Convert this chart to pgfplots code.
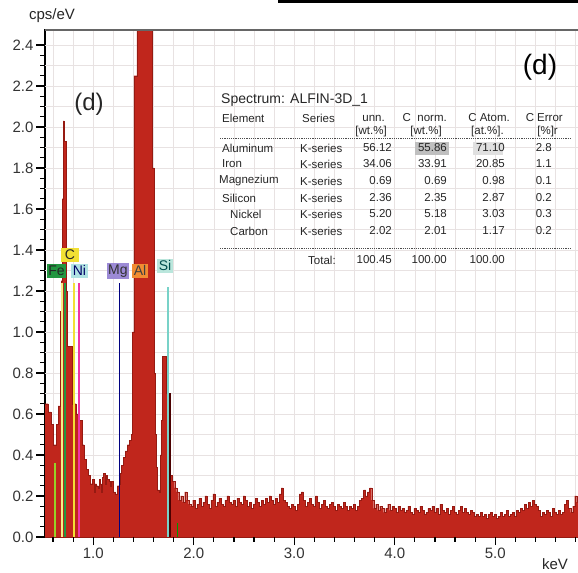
\documentclass[border=0pt]{standalone}
\usepackage{pgfplots}
\pgfplotsset{compat=1.18}
\usepackage{pgfplotstable}
\usepackage{fontspec}
\setmainfont{Liberation Sans}

\definecolor{specred}{RGB}{192,38,28}
\definecolor{specedge}{RGB}{150,26,18}
\definecolor{gridc}{RGB}{232,226,226}
\definecolor{fegreen}{RGB}{34,150,64}
\definecolor{cyell}{RGB}{242,224,52}
\definecolor{nicyan}{RGB}{176,226,226}
\definecolor{mgpurp}{RGB}{156,138,214}
\definecolor{alorange}{RGB}{242,140,50}
\definecolor{siteal}{RGB}{186,230,220}
\definecolor{limeline}{RGB}{150,210,40}
\definecolor{siline}{RGB}{120,210,200}

% EDS spectrum, channel left edge (keV) and counts (cps/eV)
\pgfplotstableread{
x y
0.50 0.65
0.55 0.61
0.58 0.55
0.60 0.45
0.63 0.55
0.65 0.64
0.67 1.10
0.68 1.25
0.69 1.65
0.70 2.03
0.71 1.93
0.73 1.20
0.74 0.93
0.79 0.65
0.83 0.60
0.86 0.57
0.89 0.45
0.91 0.38
0.93 0.33
0.95 0.30
0.97 0.26
0.99 0.28
1.01 0.22
1.02 0.26
1.03 0.25
1.05 0.24
1.06 0.28
1.07 0.26
1.08 0.22
1.09 0.29
1.10 0.31
1.12 0.26
1.13 0.30
1.14 0.28
1.16 0.27
1.17 0.25
1.18 0.27
1.20 0.22
1.22 0.21
1.24 0.25
1.26 0.26
1.27 0.31
1.28 0.35
1.30 0.39
1.32 0.42
1.34 0.45
1.36 0.47
1.38 0.50
1.39 1.00
1.405 2.25
1.435 2.60
1.585 1.80
1.605 0.80
1.615 0.50
1.625 0.34
1.635 0.23
1.66 0.22
1.665 0.40
1.675 0.57
1.69 0.88
1.725 0.70
1.77 0.30
1.79 0.27
1.81 0.24
1.83 0.22
1.85 0.18
1.87 0.20
1.89 0.17
1.91 0.22
1.93 0.18
1.95 0.16
1.97 0.15
1.99 0.18
2.01 0.14
2.03 0.16
2.05 0.19
2.07 0.15
2.09 0.17
2.11 0.20
2.13 0.16
2.15 0.14
2.17 0.18
2.19 0.21
2.21 0.15
2.23 0.17
2.25 0.19
2.27 0.16
2.29 0.15
2.31 0.18
2.33 0.20
2.35 0.17
2.37 0.16
2.39 0.18
2.41 0.15
2.43 0.19
2.45 0.17
2.47 0.16
2.49 0.20
2.51 0.18
2.53 0.15
2.55 0.17
2.57 0.14
2.59 0.16
2.61 0.19
2.63 0.17
2.65 0.15
2.67 0.18
2.69 0.16
2.71 0.19
2.73 0.17
2.75 0.20
2.77 0.18
2.79 0.16
2.81 0.19
2.83 0.17
2.85 0.21
2.87 0.24
2.89 0.18
2.91 0.17
2.93 0.15
2.95 0.14
2.97 0.16
2.99 0.15
3.01 0.13
3.03 0.16
3.05 0.21
3.07 0.22
3.09 0.18
3.11 0.15
3.13 0.17
3.15 0.19
3.17 0.16
3.19 0.15
3.21 0.20
3.23 0.17
3.25 0.14
3.27 0.16
3.29 0.18
3.31 0.15
3.33 0.14
3.35 0.16
3.37 0.17
3.39 0.15
3.41 0.13
3.43 0.16
3.45 0.15
3.47 0.14
3.49 0.17
3.51 0.15
3.53 0.13
3.55 0.15
3.57 0.14
3.59 0.16
3.61 0.13
3.63 0.15
3.65 0.18
3.67 0.19
3.69 0.23
3.71 0.20
3.73 0.22
3.75 0.24
3.77 0.18
3.79 0.14
3.81 0.16
3.83 0.13
3.85 0.15
3.87 0.14
3.89 0.12
3.91 0.14
3.93 0.16
3.95 0.13
3.97 0.15
3.99 0.14
4.01 0.12
4.03 0.15
4.05 0.13
4.07 0.14
4.09 0.12
4.11 0.13
4.13 0.15
4.15 0.12
4.17 0.11
4.19 0.14
4.21 0.13
4.23 0.12
4.25 0.15
4.27 0.13
4.29 0.11
4.31 0.12
4.33 0.14
4.35 0.13
4.37 0.15
4.39 0.12
4.41 0.14
4.43 0.11
4.45 0.16
4.47 0.13
4.49 0.12
4.51 0.14
4.53 0.11
4.55 0.13
4.57 0.15
4.59 0.12
4.61 0.11
4.63 0.13
4.65 0.15
4.67 0.12
4.69 0.14
4.71 0.12
4.73 0.11
4.75 0.13
4.77 0.12
4.79 0.10
4.81 0.11
4.83 0.10
4.85 0.12
4.87 0.10
4.89 0.11
4.91 0.09
4.93 0.11
4.95 0.12
4.97 0.10
4.99 0.11
5.01 0.09
5.03 0.10
5.05 0.12
5.07 0.10
5.09 0.11
5.11 0.13
5.13 0.10
5.15 0.11
5.17 0.12
5.19 0.10
5.21 0.13
5.23 0.12
5.25 0.14
5.27 0.13
5.29 0.16
5.31 0.14
5.33 0.17
5.35 0.15
5.37 0.18
5.39 0.16
5.41 0.15
5.43 0.13
5.45 0.10
5.47 0.12
5.49 0.11
5.51 0.13
5.53 0.12
5.55 0.10
5.57 0.14
5.59 0.12
5.61 0.11
5.63 0.13
5.65 0.11
5.67 0.12
5.69 0.16
5.71 0.18
5.73 0.14
5.75 0.12
5.77 0.15
5.79 0.20
5.81 0.17
5.83 0.17
5.87 0.17
}\spectrum

\begin{document}
\begin{tikzpicture}
\begin{axis}[
  at={(0,0)}, anchor=south west,
  scale only axis, width=535bp, height=507bp,
  xmin=0.52, xmax=5.843, ymin=0, ymax=2.473,
  axis line style={line width=1.1bp, black},
  xtick pos=bottom, ytick pos=left,
  xtick={0,1,2,3,4,5,6}, minor x tick num=4,
  ytick={0,0.2,0.4,0.6,0.8,1.0,1.2,1.4,1.6,1.8,2.0,2.2,2.4}, minor y tick num=3,
  tick align=outside,
  major tick length=8bp, minor tick length=4.5bp,
  tick style={black, line width=1bp},
  /pgf/number format/assume math mode=true,
  xticklabel style={/pgf/number format/.cd, fixed, fixed zerofill, precision=1},
  yticklabel style={/pgf/number format/.cd, fixed, fixed zerofill, precision=1},
  every tick label/.append style={font=\fontsize{15bp}{15bp}\selectfont, text=black!80},
]
% light background grid
\pgfplotsinvokeforeach{0.6,0.8,1.0,1.2,1.4,1.6,1.8,2.0,2.2,2.4,2.6,2.8,3.0,3.2,3.4,3.6,3.8,4.0,4.2,4.4,4.6,4.8,5.0,5.2,5.4,5.6,5.8}{
  \draw[gridc, line width=0.6bp] (axis cs:#1,0) -- (axis cs:#1,2.473);
}
\pgfplotsinvokeforeach{0.1,0.2,0.3,0.4,0.5,0.6,0.7,0.8,0.9,1.0,1.1,1.2,1.3,1.4,1.5,1.6,1.7,1.8,1.9,2.0,2.1,2.2,2.3,2.4}{
  \draw[gridc, line width=0.6bp] (axis cs:0.52,#1) -- (axis cs:5.843,#1);
}
\addplot[const plot, fill=specred, draw=specedge, line width=0.3bp] table {\spectrum} \closedcycle;

% element marker lines
\addplot[limeline, line width=1.2bp] coordinates {(0.620,0) (0.620,0.36)};
\addplot[cyell!60, line width=1.2bp] coordinates {(0.690,0) (0.690,1.24)};
\addplot[fegreen, line width=1.3bp] coordinates {(0.719,0) (0.719,1.24)};
\addplot[cyell, line width=2.2bp] coordinates {(0.808,0) (0.808,1.24)};
\addplot[magenta!80, line width=1.2bp] coordinates {(0.858,0) (0.858,1.24)};
\addplot[blue!50!black, line width=1.2bp] coordinates {(1.261,0) (1.261,1.24)};
\addplot[siline, line width=1.2bp] coordinates {(1.744,0) (1.744,1.22)};
\addplot[black!70!red, line width=1.2bp] coordinates {(1.764,0) (1.764,0.70)};
\addplot[green!60!black, line width=1.2bp] coordinates {(1.840,0) (1.840,0.07)};

% element labels
\tikzset{elbox/.style={inner xsep=1.5bp, inner ysep=2bp, font=\fontsize{14bp}{14bp}\selectfont}}
\node[elbox, fill=fegreen, text=black!85] at (axis cs:0.634,1.298) {Fe};
\node[elbox, fill=cyell, text=black!85] at (axis cs:0.769,1.376) {\,C\,};
\node[elbox, fill=nicyan, text=blue!40!black] at (axis cs:0.863,1.298) {Ni};
\node[elbox, fill=mgpurp, text=black!80] at (axis cs:1.246,1.298) {Mg};
\node[elbox, fill=alorange, text=black!75] at (axis cs:1.465,1.298) {Al};
\node[elbox, fill=siteal, text=teal!60!black] at (axis cs:1.714,1.322) {Si};
\end{axis}

% tick marks as small filled bars (100.507 bp per keV from 0.52, 205.01 bp per cps/eV)
\foreach \i in {0,...,48} \fill[black] (-5bp,{\i*10.2505bp-0.6bp}) rectangle (0bp,{\i*10.2505bp+0.6bp});
\foreach \i in {0,...,12} \fill[black] (-9bp,{\i*41.002bp-0.6bp}) rectangle (0bp,{\i*41.002bp+0.6bp});
\foreach \j in {0,...,26} \fill[black] ({(0.08+0.2*\j)*100.507bp-0.6bp},-5bp) rectangle ({(0.08+0.2*\j)*100.507bp+0.6bp},0bp);
\foreach \k in {1,...,5} \fill[black] ({(\k-0.52)*100.507bp-0.6bp},-8bp) rectangle ({(\k-0.52)*100.507bp+0.6bp},0bp);

% frame top line (grey) and crop bar
\draw[line width=1.5bp, black!60] (0bp,507bp) -- (535bp,507bp);
\fill[black] (233bp,534bp) rectangle (533bp,537bp);

% axis titles
\node[font=\fontsize{15bp}{15bp}\selectfont, text=black!85] at (7bp,521bp) {cps/eV};
\node[font=\fontsize{15bp}{15bp}\selectfont, text=black!85] at (510bp,-27bp) {keV};

% panel letters
\node[font=\fontsize{24bp}{26bp}\selectfont, text=black!85] at (44bp,433bp) {(d)};
\node[font=\fontsize{28bp}{30bp}\selectfont] at (495bp,470bp) {(d)};

% quantification table
\fill[black!25] (370bp,382bp) rectangle (404bp,395bp);
\fill[black!12] (428bp,382bp) rectangle (458bp,395bp);
\begin{scope}[every node/.style={inner sep=0pt, text=black!85, font=\fontsize{11.5bp}{13bp}\selectfont}]
\node[anchor=west, font=\fontsize{14bp}{16bp}\selectfont] at (176bp,437bp) {Spectrum: ALFIN-3D\_1};
\node[anchor=west] at (177bp,419bp) {Element};
\node[anchor=west] at (257bp,419bp) {Series};
\node[anchor=east] at (340bp,419bp) {unn.};
\node[anchor=east] at (402bp,419bp) {C\ \ norm.};
\node[anchor=east] at (465bp,419bp) {C Atom.};
\node[anchor=east] at (518bp,419bp) {C Error};
\node[anchor=east] at (342bp,405bp) {[wt.\%]};
\node[anchor=east] at (397bp,405bp) {[wt.\%]};
\node[anchor=east] at (459bp,405bp) {[at.\%].};
\node[anchor=east] at (513bp,405bp) {[\%]r};
\draw[dash pattern=on 1.2bp off 1bp, black!70, line width=0.9bp] (175bp,399bp) -- (525bp,399bp);
% rows
\node[anchor=west] at (177bp,389bp) {Aluminum};
\node[anchor=west] at (255bp,389bp) {K-series};
\node[anchor=east] at (347bp,389bp) {56.12};
\node[anchor=east] at (402bp,389bp) {55.86};
\node[anchor=east] at (460bp,389bp) {71.10};
\node[anchor=east] at (507bp,389bp) {2.8};
\node[anchor=west] at (177bp,373bp) {Iron};
\node[anchor=west] at (255bp,373bp) {K-series};
\node[anchor=east] at (347bp,373bp) {34.06};
\node[anchor=east] at (402bp,373bp) {33.91};
\node[anchor=east] at (460bp,373bp) {20.85};
\node[anchor=east] at (507bp,373bp) {1.1};
\node[anchor=west] at (174bp,356bp) {Magnezium};
\node[anchor=west] at (255bp,356bp) {K-series};
\node[anchor=east] at (347bp,356bp) {0.69};
\node[anchor=east] at (402bp,356bp) {0.69};
\node[anchor=east] at (460bp,356bp) {0.98};
\node[anchor=east] at (507bp,356bp) {0.1};
\node[anchor=west] at (177bp,339bp) {Silicon};
\node[anchor=west] at (255bp,339bp) {K-series};
\node[anchor=east] at (347bp,339bp) {2.36};
\node[anchor=east] at (402bp,339bp) {2.35};
\node[anchor=east] at (460bp,339bp) {2.87};
\node[anchor=east] at (507bp,339bp) {0.2};
\node[anchor=west] at (185bp,323bp) {Nickel};
\node[anchor=west] at (255bp,323bp) {K-series};
\node[anchor=east] at (347bp,323bp) {5.20};
\node[anchor=east] at (402bp,323bp) {5.18};
\node[anchor=east] at (460bp,323bp) {3.03};
\node[anchor=east] at (507bp,323bp) {0.3};
\node[anchor=west] at (185bp,306bp) {Carbon};
\node[anchor=west] at (255bp,306bp) {K-series};
\node[anchor=east] at (347bp,306bp) {2.02};
\node[anchor=east] at (402bp,306bp) {2.01};
\node[anchor=east] at (460bp,306bp) {1.17};
\node[anchor=east] at (507bp,306bp) {0.2};
\draw[dash pattern=on 1.2bp off 1bp, black!70, line width=0.9bp] (175bp,289bp) -- (525bp,289bp);
\node[anchor=west] at (263bp,277bp) {Total:};
\node[anchor=east] at (347bp,277bp) {100.45};
\node[anchor=east] at (402bp,277bp) {100.00};
\node[anchor=east] at (460bp,277bp) {100.00};
\end{scope}

\pgfresetboundingbox
\path[use as bounding box] (-45bp,-36bp) rectangle (533bp,537bp);
\end{tikzpicture}
\end{document}
